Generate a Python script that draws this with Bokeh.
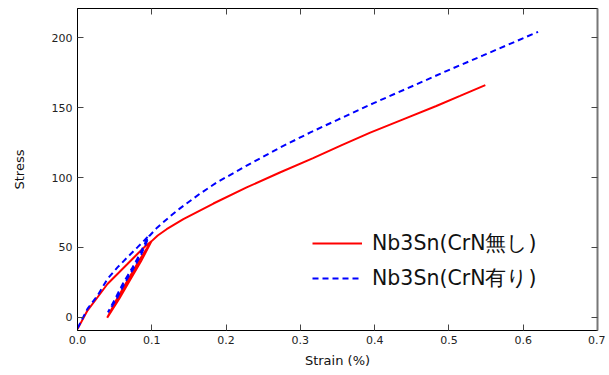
from bokeh.plotting import figure
from bokeh.models import (LinearAxis, FixedTicker, Range1d, Legend, LegendItem,
                          NumeralTickFormatter, CustomJSTickFormatter)
from bokeh.embed import file_html
from bokeh.resources import INLINE

# Nb3Sn without CrN (red, solid): load, unload, reload, then continue
red_strain = [0.000, 0.0134, 0.027, 0.0403, 0.0538, 0.0672, 0.0806, 0.092, 0.0995,
              0.084, 0.066, 0.0525, 0.040,
              0.056, 0.070, 0.0855, 0.0995,
              0.108, 0.120, 0.1425, 0.183, 0.2277, 0.2724, 0.3172, 0.355,
              0.394, 0.440, 0.483, 0.515, 0.549]
red_stress = [-8.5, 4.8, 14.3, 23.8, 31.0, 38.1, 45.3, 51.2, 54.3,
              41.5, 25.0, 12.5, -0.4,
              13.0, 26.0, 40.0, 54.3,
              58.5, 63.0, 70.3, 81.4, 92.9, 103.6, 113.9, 123.0,
              132.1, 142.0, 151.2, 158.4, 166.2]

# Nb3Sn with CrN (blue, dashed)
blue_strain = [0.000, 0.0134, 0.027, 0.0403, 0.0538, 0.0672, 0.0806, 0.0955,
               0.084, 0.073, 0.062, 0.0506, 0.041,
               0.0526, 0.064, 0.075, 0.086, 0.0964,
               0.1075, 0.1255, 0.138, 0.165, 0.187, 0.2277, 0.2724, 0.3128, 0.350,
               0.398, 0.440, 0.4965, 0.546, 0.620]
blue_stress = [-8.0, 6.0, 15.5, 27.4, 35.7, 42.9, 50.0, 58.0,
               45.3, 34.6, 25.0, 13.1, 3.5,
               13.1, 25.0, 34.6, 45.3, 58.0,
               64.3, 72.6, 77.9, 88.5, 96.3, 108.5, 121.4, 132.1, 141.3,
               153.1, 162.9, 176.2, 187.4, 204.3]

x_ticks = [0.0, 0.1, 0.2, 0.3, 0.4, 0.5, 0.6, 0.7]
y_ticks = [0, 50, 100, 150, 200]
labels = ["Nb3Sn(CrN無し)", "Nb3Sn(CrN有り)"]

FONT = "DejaVu Sans"

p = figure(width=605, height=375, output_backend="svg", toolbar_location=None,
           x_range=Range1d(0, 0.7), y_range=Range1d(-9.5, 221),
           min_border_left=77, min_border_right=8, min_border_top=8, min_border_bottom=45,
           x_axis_label="Strain (%)", y_axis_label="Stress")
p.grid.grid_line_color = None
p.outline_line_color = "black"
p.outline_line_width = 1
p.background_fill_color = "white"
p.border_fill_color = "white"

for ax in p.xaxis:
    ax.ticker = FixedTicker(ticks=x_ticks)
    ax.formatter = NumeralTickFormatter(format="0.0")
for ax in p.yaxis:
    ax.ticker = FixedTicker(ticks=y_ticks)

for ax in list(p.xaxis) + list(p.yaxis):
    ax.major_tick_in = 6
    ax.major_tick_out = 0
    ax.minor_tick_line_color = None
    ax.major_tick_line_color = "#444444"
    ax.axis_line_color = "black"
    ax.major_label_text_font = FONT
    ax.major_label_text_font_size = "11px"
    ax.major_label_text_color = "#222222"
    ax.axis_label_text_font = FONT
    ax.axis_label_text_font_size = "13px"
    ax.axis_label_text_font_style = "normal"
    ax.axis_label_text_color = "#111111"
    ax.major_label_standoff = 5

p.xaxis.axis_label_standoff = 6
p.yaxis.axis_label_standoff = 22

blank = CustomJSTickFormatter(code="return ''")
top = LinearAxis(ticker=FixedTicker(ticks=x_ticks), formatter=blank,
                 major_label_standoff=0, major_tick_in=6, major_tick_out=0,
                 minor_tick_line_color=None, major_tick_line_color="#444444",
                 axis_line_color="black")
right = LinearAxis(ticker=FixedTicker(ticks=y_ticks), formatter=blank,
                   major_label_standoff=0, major_tick_in=6, major_tick_out=0,
                   minor_tick_line_color=None, major_tick_line_color="#444444",
                   axis_line_color="#777777", axis_line_width=2)
p.add_layout(top, "above")
p.add_layout(right, "right")

r1 = p.line(red_strain, red_stress, line_color="#ff0000", line_width=2)
r2 = p.line(blue_strain, blue_stress, line_color="#0000ff", line_width=2, line_dash="6 4")

legend = Legend(items=[LegendItem(label=labels[0], renderers=[r1]),
                       LegendItem(label=labels[1], renderers=[r2])],
                location=(235, 38), padding=0, margin=0, spacing=7,
                glyph_width=50, glyph_height=20, label_standoff=10,
                label_text_font=FONT, label_text_font_size="20.5px",
                label_text_color="#111111",
                border_line_color=None, background_fill_alpha=0)
p.add_layout(legend)

open("out.html", "w").write(file_html(p, INLINE))
